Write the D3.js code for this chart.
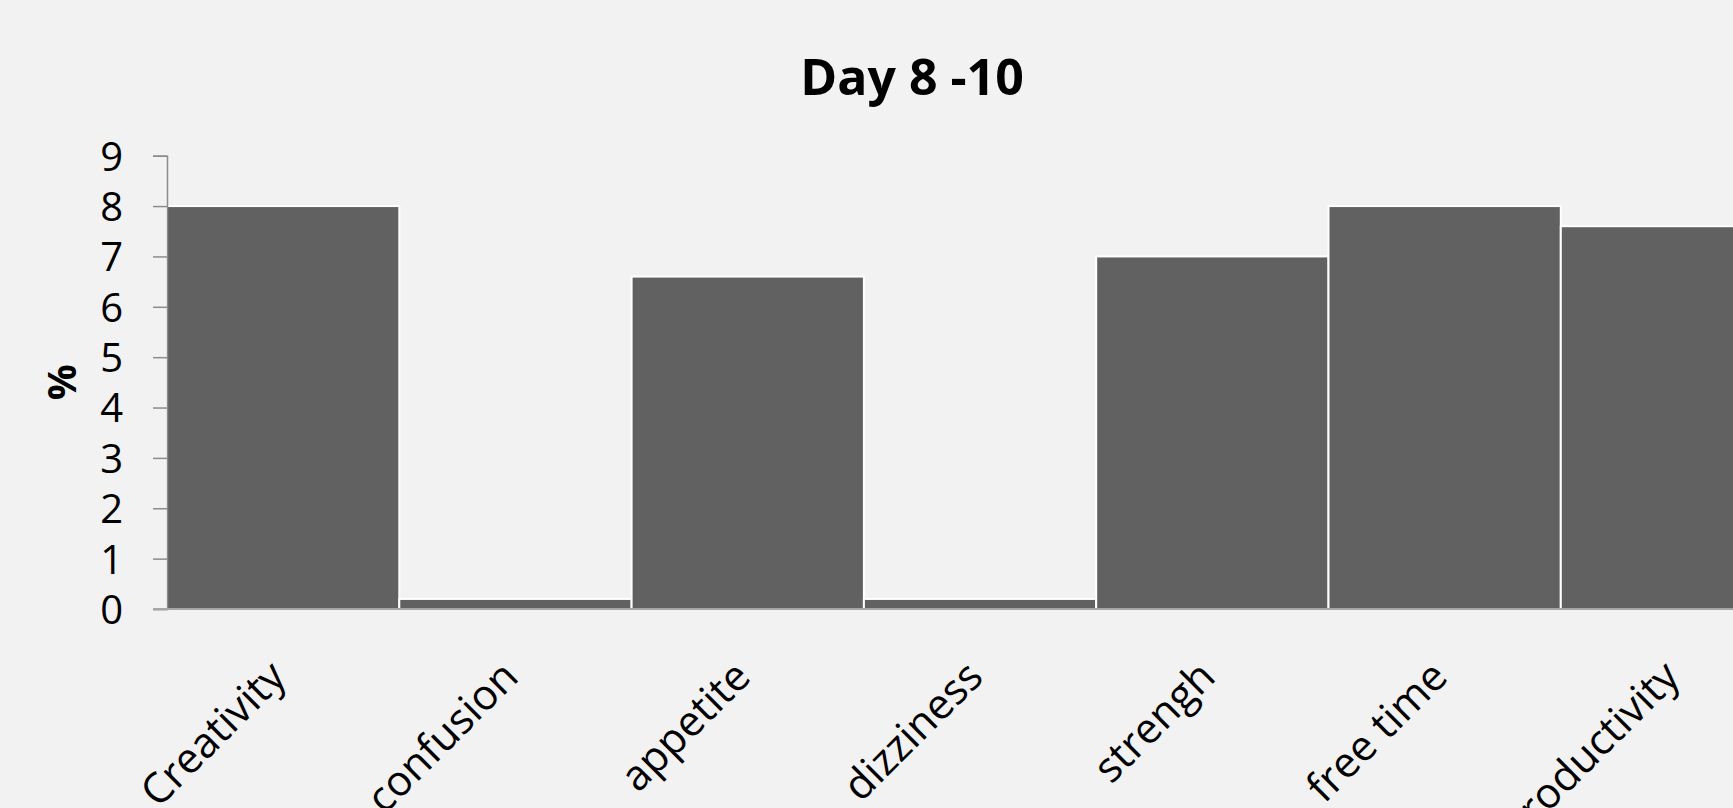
<!DOCTYPE html>
<html>
<head>
<meta charset="utf-8">
<script src="https://cdn.jsdelivr.net/npm/d3@7"></script>
<style>
  html, body { margin: 0; padding: 0; background: #f2f2f2; overflow: hidden; }
  svg { display: block; }
</style>
</head>
<body>
<script>
// Chart data
const categories = ["Creativity", "confusion", "appetite", "dizziness", "strengh", "free time", "productivity"];
const values = [8, 0.2, 6.6, 0.2, 7, 8, 7.6];
const yTicks = [0, 1, 2, 3, 4, 5, 6, 7, 8, 9];
const title = "Day 8 -10";
const yLabel = "%";

const W = 1733, H = 808;
const plot = { left: 167, top: 155.7, bottom: 609, band: 232.3 };

const svg = d3.select("body").append("svg")
  .attr("width", W).attr("height", H);

svg.append("rect").attr("width", W).attr("height", H).attr("fill", "#f2f2f2");

const x = d3.scaleBand()
  .domain(categories)
  .range([plot.left, plot.left + plot.band * categories.length])
  .paddingInner(0).paddingOuter(0);

const y = d3.scaleLinear()
  .domain([0, 9])
  .range([plot.bottom, plot.top]);

// Bars
svg.append("g").selectAll("rect")
  .data(categories)
  .join("rect")
  .attr("x", d => x(d))
  .attr("y", (d, i) => y(values[i]))
  .attr("width", x.bandwidth())
  .attr("height", (d, i) => y(0) - y(values[i]))
  .attr("fill", "#616161")
  .attr("stroke", "#ffffff")
  .attr("stroke-width", 2);

// Y axis
const yAxis = svg.append("g")
  .attr("transform", `translate(${plot.left},0)`)
  .call(d3.axisLeft(y).tickValues(yTicks).tickSize(14).tickPadding(30).tickFormat(d3.format("d")));
yAxis.select(".domain").attr("stroke", "#8c8c8c").attr("stroke-width", 1.5);
yAxis.selectAll(".tick line").attr("stroke", "#8c8c8c").attr("stroke-width", 1.5);
yAxis.selectAll(".tick text")
  .attr("fill", "#000")
  .style("font-family", "'Open Sans', sans-serif")
  .style("font-size", "40px")
  .attr("dy", "0.36em");

// Baseline
svg.append("line")
  .attr("x1", plot.left - 14).attr("x2", W)
  .attr("y1", y(0)).attr("y2", y(0))
  .attr("stroke", "#a6a6a6").attr("stroke-width", 2);

// Category labels
svg.append("g").selectAll("text")
  .data(categories)
  .join("text")
  .attr("transform", d => `translate(${x(d) + x.bandwidth() / 2 + 5},${plot.bottom + 70}) rotate(-45)`)
  .attr("text-anchor", "end")
  .style("font-family", "'Open Sans', sans-serif")
  .style("font-size", "42px")
  .attr("fill", "#000")
  .text(d => d);

// Title
svg.append("text")
  .attr("x", 912).attr("y", 95)
  .attr("text-anchor", "middle")
  .style("font-family", "'Open Sans', sans-serif")
  .style("font-weight", "bold")
  .style("font-size", "50px")
  .attr("fill", "#000")
  .text(title);

// Y axis label
svg.append("text")
  .attr("transform", `translate(76,${(plot.top + plot.bottom) / 2}) rotate(-90)`)
  .attr("text-anchor", "middle")
  .style("font-family", "'Open Sans', sans-serif")
  .style("font-weight", "bold")
  .style("font-size", "40px")
  .attr("fill", "#000")
  .text(yLabel);
</script>
</body>
</html>
